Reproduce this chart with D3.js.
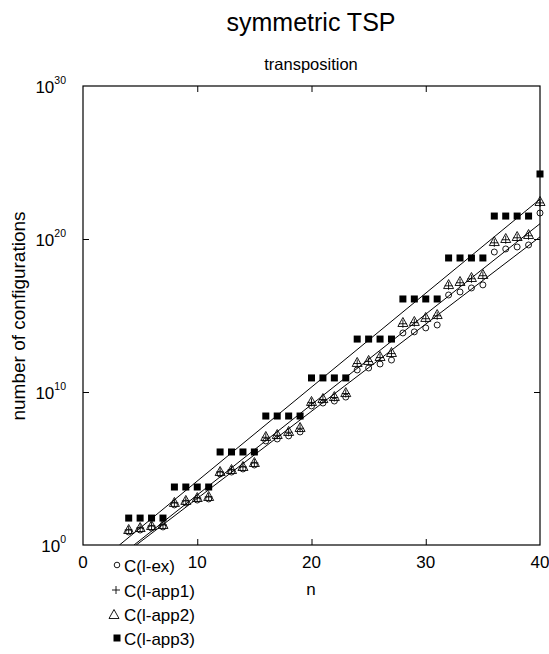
<!DOCTYPE html>
<html>
<head>
<meta charset="utf-8">
<script src="https://cdn.jsdelivr.net/npm/d3@7"></script>
<style>
  body { margin: 0; background: #fff; }
  svg { display: block; font-family: "Liberation Sans", Arial, sans-serif; }
</style>
</head>
<body>
<svg id="chart" width="549" height="654"></svg>
<script>
// n values (system size)
const nValues = d3.range(4, 41);

// log10 of number of configurations
const logEx = [0.85, 0.98, 1.11, 1.18, 2.62, 2.75, 2.94, 3.01, 4.64, 4.77, 4.97, 5.23,
  6.80, 6.93, 7.13, 7.39, 9.09, 9.28, 9.41, 9.67, 11.44, 11.57, 11.83, 12.09,
  13.86, 13.93, 14.19, 14.38, 16.34, 16.54, 16.80, 17.00, 19.15, 19.35, 19.48, 19.61, 21.70];
const logApp1 = [0.98, 1.11, 1.24, 1.31, 2.75, 2.88, 3.07, 3.14, 4.77, 4.90, 5.10, 5.36,
  7.04, 7.17, 7.37, 7.63, 9.32, 9.51, 9.64, 9.90, 11.86, 11.99, 12.25, 12.51,
  14.46, 14.53, 14.79, 14.98, 16.94, 17.14, 17.40, 17.60, 19.75, 19.95, 20.08, 20.21, 22.36];
const logApp2 = [0.98, 1.11, 1.24, 1.31, 2.75, 2.88, 3.07, 3.14, 4.77, 4.90, 5.10, 5.36,
  7.06, 7.19, 7.39, 7.65, 9.35, 9.54, 9.67, 9.93, 11.90, 12.03, 12.29, 12.55,
  14.51, 14.58, 14.84, 15.03, 16.99, 17.19, 17.45, 17.65, 19.80, 20.00, 20.13, 20.26, 22.42];
const logApp3 = [1.76, 1.76, 1.76, 1.76, 3.79, 3.79, 3.79, 3.79, 6.08, 6.08, 6.08, 6.08,
  8.43, 8.43, 8.43, 8.43, 10.92, 10.92, 10.92, 10.92, 13.46, 13.46, 13.46, 13.46,
  16.08, 16.08, 16.08, 16.08, 18.76, 18.76, 18.76, 18.76, 21.50, 21.50, 21.50, 21.50, 24.25];

// fitted lines: log10 C = intercept + slope * n
const fitIntercepts = [-1.96, -2.64, -2.66];
const fitSlopes = [0.614, 0.591, 0.570];

const xTicks = [0, 10, 20, 30, 40];
const yTickExps = [0, 10, 20, 30];
const legendLabels = ["C(l-ex)", "C(l-app1)", "C(l-app2)", "C(l-app3)"];

const svg = d3.select("#chart");
const L = 83, R = 540, T = 86, B = 545;

const x = d3.scaleLinear().domain([0, 40]).range([L, R]);
const y = d3.scaleLog().domain([1, 1e30]).range([B, T]);

// titles
svg.append("text").attr("x", 311).attr("y", 31).attr("text-anchor", "middle")
  .style("font-size", "25px").text("symmetric TSP");
svg.append("text").attr("x", 311).attr("y", 70).attr("text-anchor", "middle")
  .style("font-size", "16.5px").text("transposition");

// axis labels
svg.append("text").attr("transform", "translate(25,316) rotate(-90)")
  .attr("text-anchor", "middle").style("font-size", "19px")
  .text("number of configurations");
svg.append("text").attr("x", 311).attr("y", 595).attr("text-anchor", "middle")
  .style("font-size", "17px").text("n");

// clip for the fit lines
svg.append("clipPath").attr("id", "plotClip")
  .append("rect").attr("x", L).attr("y", T).attr("width", R - L).attr("height", B - T);

// fitted lines
const lineGen = d3.line().x(d => x(d[0])).y(d => y(Math.pow(10, d[1])));
fitIntercepts.forEach((a, i) => {
  const b = fitSlopes[i];
  const n0 = Math.max(0, -a / b - 0.01);
  const pts = [[n0, a + b * n0], [40, a + b * 40]];
  svg.append("path").attr("d", lineGen(pts))
    .attr("clip-path", "url(#plotClip)")
    .attr("fill", "none").attr("stroke", "#000").attr("stroke-width", 1);
});

// frame
svg.append("rect").attr("x", L).attr("y", T).attr("width", R - L).attr("height", B - T)
  .attr("fill", "none").attr("stroke", "#000").attr("stroke-width", 1.2);

// ticks (inward, mirrored)
const axB = d3.axisBottom(x).tickValues(xTicks.slice(1, -1)).tickSize(-6).tickFormat("");
const axT = d3.axisTop(x).tickValues(xTicks.slice(1, -1)).tickSize(-6).tickFormat("");
const axL = d3.axisLeft(y).tickValues([1e10, 1e20]).tickSize(-6).tickFormat("");
const axR = d3.axisRight(y).tickValues([1e10, 1e20]).tickSize(-6).tickFormat("");
[[axB, `translate(0,${B})`], [axT, `translate(0,${T})`],
 [axL, `translate(${L},0)`], [axR, `translate(${R},0)`]].forEach(([ax, tr]) => {
  const g = svg.append("g").attr("transform", tr).call(ax);
  g.select(".domain").remove();
  g.selectAll("line").attr("stroke", "#000");
});

// tick labels
svg.append("g").selectAll("text").data(xTicks).join("text")
  .attr("x", d => x(d)).attr("y", 568).attr("text-anchor", "middle")
  .style("font-size", "17px").text(d => d);

const yl = svg.append("g").selectAll("text").data(yTickExps).join("text")
  .attr("x", 66).attr("y", d => y(Math.pow(10, d)) + 7).attr("text-anchor", "end")
  .style("font-size", "17px");
yl.append("tspan").text("10");
yl.append("tspan").attr("dy", -9).style("font-size", "10.5px").text(d => d);

// markers
const pts = (arr) => arr.map((v, i) => [nValues[i], Math.pow(10, v)]);
const mk = svg.append("g");

mk.selectAll("circle.ex").data(pts(logEx)).join("circle")
  .attr("cx", d => x(d[0])).attr("cy", d => y(d[1])).attr("r", 3)
  .attr("fill", "none").attr("stroke", "#000").attr("stroke-width", 0.9);

const plusPath = "M-4,0H4M0,-4V4";
mk.selectAll("path.app1").data(pts(logApp1)).join("path")
  .attr("transform", d => `translate(${x(d[0])},${y(d[1])})`)
  .attr("d", plusPath).attr("stroke", "#000").attr("stroke-width", 0.9).attr("fill", "none");

const triPath = "M0,-5.5L5,3.5L-5,3.5Z";
mk.selectAll("path.app2").data(pts(logApp2)).join("path")
  .attr("transform", d => `translate(${x(d[0])},${y(d[1])})`)
  .attr("d", triPath).attr("stroke", "#000").attr("stroke-width", 0.9).attr("fill", "none");

mk.selectAll("rect.app3").data(pts(logApp3)).join("rect")
  .attr("x", d => x(d[0]) - 3.5).attr("y", d => y(d[1]) - 3.5)
  .attr("width", 7).attr("height", 7).attr("fill", "#000");

// legend
const lg = svg.append("g");
const legY = [565, 590, 614, 638];
lg.selectAll("text").data(legendLabels).join("text")
  .attr("x", 124).attr("y", (d, i) => legY[i] + 7)
  .style("font-size", "17px").text(d => d);
lg.append("circle").attr("cx", 117).attr("cy", legY[0]).attr("r", 2.8)
  .attr("fill", "none").attr("stroke", "#000").attr("stroke-width", 0.9);
lg.append("path").attr("transform", `translate(116,${legY[1]})`).attr("d", plusPath)
  .attr("stroke", "#000").attr("stroke-width", 0.9);
lg.append("path").attr("transform", `translate(114,${legY[2] + 1})`).attr("d", triPath)
  .attr("stroke", "#000").attr("stroke-width", 0.9).attr("fill", "none");
lg.append("rect").attr("x", 113.5).attr("y", legY[3] - 3.5).attr("width", 7).attr("height", 7)
  .attr("fill", "#000");
</script>
</body>
</html>
